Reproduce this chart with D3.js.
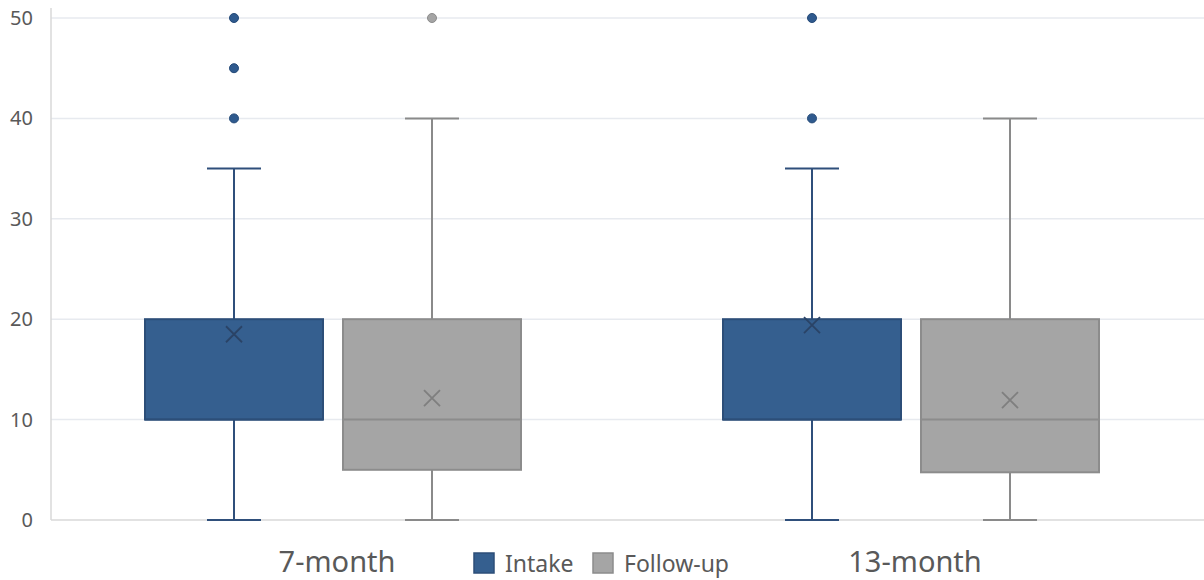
<!DOCTYPE html>
<html>
<head>
<meta charset="utf-8">
<script src="https://cdn.jsdelivr.net/npm/d3@7"></script>
<style>
  html, body { margin: 0; padding: 0; background: #fff; }
  svg { display: block; font-family: "Noto Sans", "Open Sans", sans-serif; }
</style>
</head>
<body>
<svg id="chart" width="1204" height="580"></svg>
<script>
// ---- Data ----
const categories = ["7-month", "13-month"];
const series = ["Intake", "Follow-up"];
const yTicks = [0, 10, 20, 30, 40, 50];

const intakeMin = [0, 0];
const intakeQ1 = [10, 10];
const intakeMedian = [10, 10];
const intakeQ3 = [20, 20];
const intakeMax = [35, 35];
const intakeMean = [18.5, 19.4];
const intakeOutliers = [[40, 45, 50], [40, 50]];

const followMin = [0, 0];
const followQ1 = [5, 4.75];
const followMedian = [10, 10];
const followQ3 = [20, 20];
const followMax = [40, 40];
const followMean = [12.15, 11.95];
const followOutliers = [[50], []];

// ---- Build records ----
const styles = {
  "Intake": { fill: "#355F8F", stroke: "#2C4E78", whisker: "#2F4F7B", mean: "#2A4366", dot: "#2F5A8E", dotStroke: "#254A78" },
  "Follow-up": { fill: "#A5A5A5", stroke: "#8C8C8C", whisker: "#8A8A8A", mean: "#7F7F7F", dot: "#A5A5A5", dotStroke: "#8C8C8C" }
};
const records = [];
categories.forEach((c, i) => {
  records.push({ cat: c, s: "Intake", min: intakeMin[i], q1: intakeQ1[i], med: intakeMedian[i], q3: intakeQ3[i], max: intakeMax[i], mean: intakeMean[i], out: intakeOutliers[i] });
  records.push({ cat: c, s: "Follow-up", min: followMin[i], q1: followQ1[i], med: followMedian[i], q3: followQ3[i], max: followMax[i], mean: followMean[i], out: followOutliers[i] });
});

// ---- Layout ----
const svg = d3.select("#chart");
const plotLeft = 51, plotRight = 1204, plotTop = 18, plotBottom = 520;

const y = d3.scaleLinear().domain([0, 50]).range([plotBottom, plotTop]);
const x0 = d3.scaleBand().domain(categories).range([44, 1200]).padding(0);
const x1 = d3.scaleBand().domain(series).range([101, 477]).paddingInner(0.101).paddingOuter(0);
const bw = x1.bandwidth();
const capW = 54;

// gridlines
svg.append("g")
  .selectAll("line")
  .data(yTicks.filter(t => t > 0))
  .join("line")
  .attr("x1", plotLeft).attr("x2", plotRight)
  .attr("y1", d => y(d)).attr("y2", d => y(d))
  .attr("stroke", "#E7EAEF").attr("stroke-width", 1.5);

// y axis
const yAxis = d3.axisLeft(y).tickValues(yTicks).tickSize(0).tickPadding(18);
const yg = svg.append("g").attr("transform", `translate(${plotLeft},0)`).call(yAxis);
yg.select(".domain").remove();
yg.selectAll("text").attr("fill", "#595959").attr("font-size", 20).attr("font-family", "Noto Sans");
svg.append("line")
  .attr("x1", plotLeft).attr("x2", plotLeft)
  .attr("y1", 8).attr("y2", plotBottom)
  .attr("stroke", "#D9D9D9").attr("stroke-width", 1.5);
// x axis baseline
svg.append("line")
  .attr("x1", plotLeft).attr("x2", plotRight)
  .attr("y1", plotBottom).attr("y2", plotBottom)
  .attr("stroke", "#D9D9D9").attr("stroke-width", 1.5);

// x category labels
const xAxis = d3.axisBottom(x0).tickSize(0).tickPadding(31);
const xg = svg.append("g").attr("transform", `translate(0,${plotBottom})`).call(xAxis);
xg.select(".domain").remove();
xg.selectAll("text").attr("fill", "#595959").attr("font-size", 29).attr("font-family", "Noto Sans")
  .attr("dx", 4);

// boxes
const g = svg.append("g");
records.forEach(r => {
  const st = styles[r.s];
  const cx = x0(r.cat) + x1(r.s) + bw / 2;
  const left = x0(r.cat) + x1(r.s);
  // whiskers
  g.append("line").attr("x1", cx).attr("x2", cx).attr("y1", y(r.q3)).attr("y2", y(r.max))
    .attr("stroke", st.whisker).attr("stroke-width", 2);
  g.append("line").attr("x1", cx).attr("x2", cx).attr("y1", y(r.q1)).attr("y2", y(r.min))
    .attr("stroke", st.whisker).attr("stroke-width", 2);
  g.append("line").attr("x1", cx - capW / 2).attr("x2", cx + capW / 2).attr("y1", y(r.max)).attr("y2", y(r.max))
    .attr("stroke", st.whisker).attr("stroke-width", 2);
  g.append("line").attr("x1", cx - capW / 2).attr("x2", cx + capW / 2).attr("y1", y(r.min)).attr("y2", y(r.min))
    .attr("stroke", st.whisker).attr("stroke-width", 2);
  // box
  g.append("rect").attr("x", left).attr("y", y(r.q3)).attr("width", bw).attr("height", y(r.q1) - y(r.q3))
    .attr("fill", st.fill).attr("stroke", st.stroke).attr("stroke-width", 2);
  // median
  g.append("line").attr("x1", left).attr("x2", left + bw).attr("y1", y(r.med)).attr("y2", y(r.med))
    .attr("stroke", st.stroke).attr("stroke-width", 2);
  // mean marker
  const m = 8, my = y(r.mean);
  g.append("path").attr("d", `M${cx - m},${my - m}L${cx + m},${my + m}M${cx - m},${my + m}L${cx + m},${my - m}`)
    .attr("stroke", st.mean).attr("stroke-width", 1.8).attr("fill", "none");
  // outliers
  r.out.forEach(v => {
    g.append("circle").attr("cx", cx).attr("cy", y(v)).attr("r", 4.5)
      .attr("fill", st.dot).attr("stroke", st.dotStroke).attr("stroke-width", 1);
  });
});

// legend
const legendX = [473, 592];
const lg = svg.append("g");
series.forEach((s, i) => {
  const st = styles[s];
  lg.append("rect").attr("x", legendX[i] + 1).attr("y", 553).attr("width", 20).attr("height", 20)
    .attr("fill", st.fill).attr("stroke", st.stroke).attr("stroke-width", 1.5);
  lg.append("text").attr("x", legendX[i] + 32).attr("y", 572).text(s)
    .attr("fill", "#595959").attr("font-size", 23).attr("font-family", "Noto Sans");
});
</script>
</body>
</html>
